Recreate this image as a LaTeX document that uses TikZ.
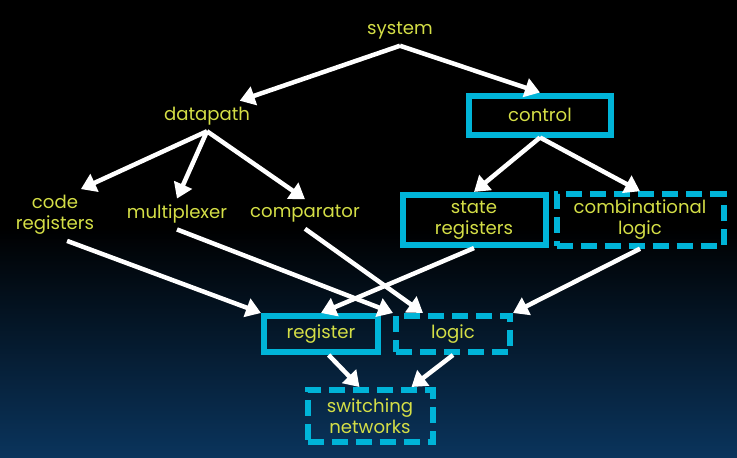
\documentclass[tikz,border=0pt]{standalone}
\usepackage{fontspec}
\setmainfont{Poppins}
\usetikzlibrary{arrows.meta}
\definecolor{lblgreen}{RGB}{212,222,70}
\definecolor{boxcyan}{RGB}{0,180,216}
\definecolor{bgnavy}{RGB}{10,52,92}
\begin{document}
\begin{tikzpicture}[
    lbl/.style={text=lblgreen, font=\fontsize{10.3}{12}\selectfont, align=center},
    box/.style={lbl, draw=boxcyan, line width=0.12cm},
    dbox/.style={box, dash pattern=on 0.32cm off 0.16cm},
    arr/.style={white, line width=0.09cm, -{Triangle[length=0.3cm,width=0.38cm]}}]
    % background
    \fill[black] (0,0) rectangle (14.74,9.14);
    \shade[top color=black, bottom color=bgnavy] (0,0) rectangle (14.74,4.6);
    \useasboundingbox (0,0) rectangle (14.74,9.14);
    % top levels
    \node[lbl] (system) at (8.0,8.52) {system};
    \node[lbl] (datapath) at (4.14,6.82) {datapath};
    \node[box, minimum width=2.84cm, minimum height=0.78cm] (control) at (10.8,6.84) {control};
    \node[lbl] (codereg) at (1.1,4.84) {code\\registers};
    \node[lbl] (mux) at (3.54,4.86) {multiplexer};
    \node[lbl] (comp) at (6.1,4.86) {comparator};
    \node[box, minimum width=2.86cm, minimum height=0.88cm] (statereg) at (9.48,4.74) {state\\registers};
    \node[dbox, minimum width=3.34cm, minimum height=0.88cm] (comblogic) at (12.8,4.74) {combinational\\logic};
    % bottom levels
    \node[box, minimum width=2.28cm, minimum height=0.72cm] (register) at (6.42,2.46) {register};
    \node[dbox, minimum width=2.28cm, minimum height=0.72cm] (logic) at (9.06,2.46) {logic};
    \node[dbox, minimum width=2.5cm, minimum height=1.04cm] (switch) at (7.4,0.82) {switching\\networks};
    % arrows
    \draw[arr] (system.south) -- (datapath.25);
    \draw[arr] (system.south) -- (control.north);
    \draw[arr] (datapath.south) -- (codereg.45);
    \draw[arr] (datapath.south) -- (mux.north);
    \draw[arr] (datapath.south) -- (comp.north);
    \draw[arr] (control.south) -- (statereg.north);
    \draw[arr] (control.south) -- (comblogic.north);
    \draw[arr] (codereg.-65) -- (register.north west);
    \draw[arr] (mux.south) -- (logic.north west);
    \draw[arr] (comp.south) -- (logic.145);
    \draw[arr] (statereg.south) -- (register.north);
    \draw[arr] (comblogic.south) -- (logic.north east);
    \draw[arr] (register.-70) -- (switch.110);
    \draw[arr] (logic.south) -- (switch.35);
\end{tikzpicture}
\end{document}
